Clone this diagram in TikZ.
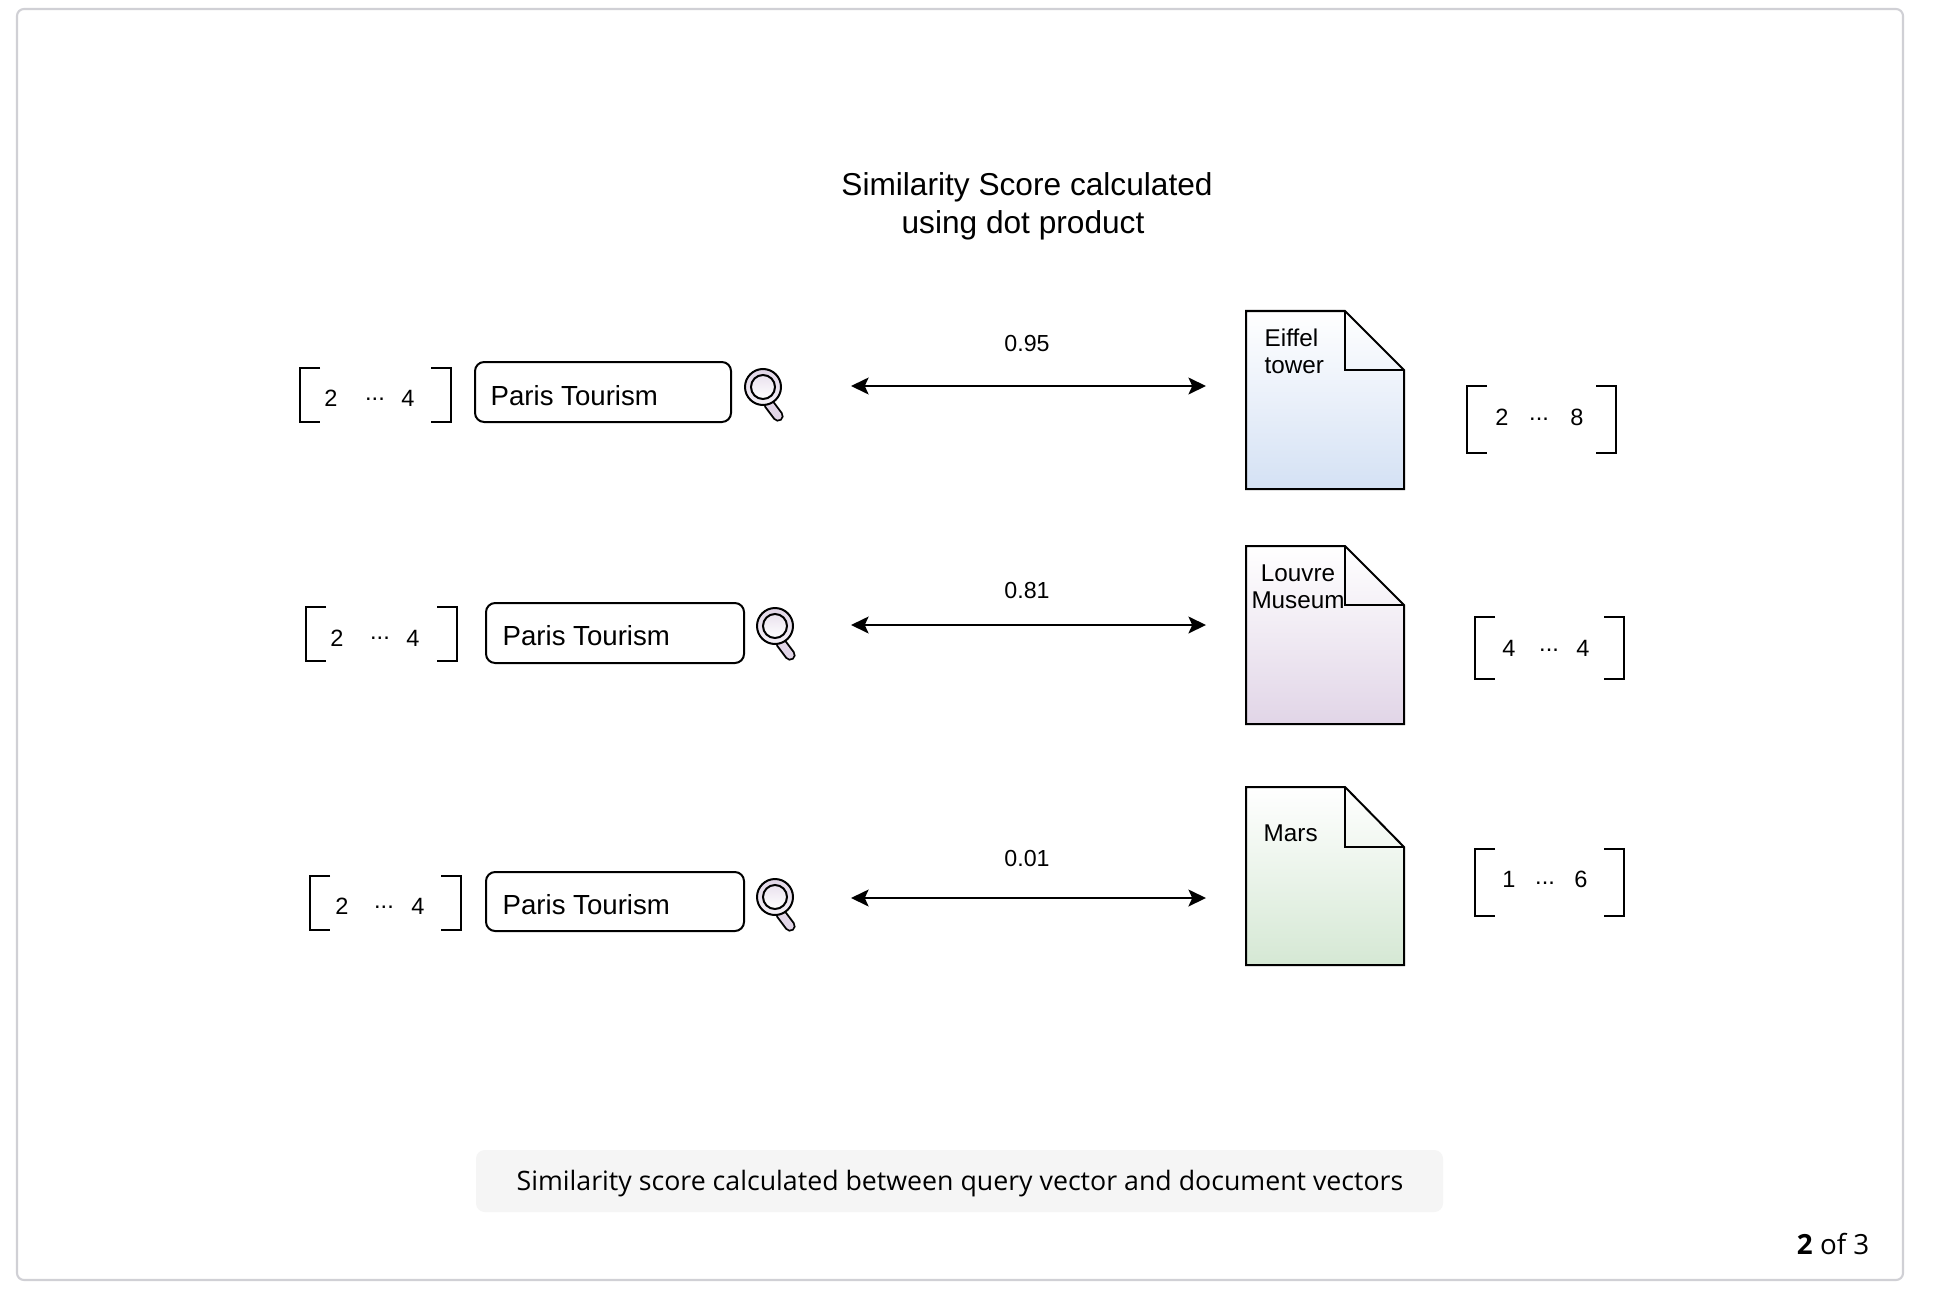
\documentclass[tikz,border=0pt]{standalone}
\usepackage{fontspec}
\setmainfont{Liberation Sans}
\newfontfamily\capfont{Open Sans}
\definecolor{framegray}{RGB}{208,208,213}
\definecolor{capgray}{RGB}{245,245,245}
\definecolor{docblue}{RGB}{212,225,244}
\definecolor{docpurple}{RGB}{225,213,231}
\definecolor{docgreen}{RGB}{213,232,212}
\usetikzlibrary{arrows.meta,positioning}
\newcommand{\fs}[1]{\fontsize{#1}{#1}\selectfont}
\tikzset{
  ln/.style={line width=0.57pt,black},
  querybox/.style={ln,draw,rounded corners=2.6pt},
  querytxt/.style={font=\fs{7.85},anchor=west,inner sep=0pt},
  vecnum/.style={font=\fs{6.7},inner sep=0pt},
  scorelbl/.style={font=\fs{6.6},inner sep=0pt},
  doctxt/.style={font=\fontsize{6.9}{7.7}\selectfont,inner sep=0pt,align=left},
  simarrow/.style={ln,{Stealth[length=5pt,width=4.8pt,inset=1.1pt]}-{Stealth[length=5pt,width=4.8pt,inset=1.1pt]}},
  lensring/.style={ln,top color=docpurple,bottom color=docpurple!35},
  lensglass/.style={ln,top color=docpurple!70,bottom color=white},
}
\begin{document}
\begin{tikzpicture}[x=0.01cm,y=-0.01cm]
\useasboundingbox (0,0) rectangle (1934,1294);
\fill[white] (0,0) rectangle (1934,1294);
\draw[framegray,line width=0.6pt,rounded corners=2pt] (17,9) rectangle (1903,1280);
% title
\node[font=\fs{9},align=center,inner sep=0pt] (title1) at (1027,187) {Similarity Score calculated};
\node[font=\fs{9},align=center,inner sep=0pt] (title2) at (1023,225) {using dot product};
% row 1
\draw[ln] (320,368) -| (300,422) -- (320,422);
\draw[ln] (431,368) -| (451,422) -- (431,422);
\node[vecnum] (q1a) at (331,398) {2};
\node[vecnum] (q1b) at (375,399) {...};
\node[vecnum] (q1c) at (408,398) {4};
\draw[querybox] (475,362) rectangle (731,422);
\node[querytxt] (q1) at (490,396) {Paris Tourism};
\draw[line width=3.2pt,line cap=round] (769,404) -- (778,416);
\draw[line width=2.1pt,docpurple,line cap=round] (769,404) -- (778,416);
\draw[lensring] (763,387) circle (18);
\draw[lensglass] (763,387) circle (12);
\coordinate (a1l) at (851,386);
\coordinate (a1r) at (1206,386);
\draw[simarrow] (a1l) -- (a1r);
\node[scorelbl] (s1) at (1027,344) {0.95};
\draw[ln,top color=white,bottom color=docblue] (1246,311) -- (1345,311) -- (1404,370) -- (1404,489) -- (1246,489) -- cycle;
\draw[ln] (1345,311) -- (1345,370) -- (1404,370);
\node[doctxt,anchor=west] (d1) at (1264,351.5) {Eiffel\\tower};
\draw[ln] (1487,386) -| (1467,453) -- (1487,453);
\draw[ln] (1596,386) -| (1616,453) -- (1596,453);
\node[vecnum] (v1a) at (1502,417) {2};
\node[vecnum] (v1b) at (1539,419) {...};
\node[vecnum] (v1c) at (1577,417) {8};
% row 2
\draw[ln] (326,607) -| (306,661) -- (326,661);
\draw[ln] (437,607) -| (457,661) -- (437,661);
\node[vecnum] (q2a) at (337,638) {2};
\node[vecnum] (q2b) at (380,638) {...};
\node[vecnum] (q2c) at (413,638) {4};
\draw[querybox] (486,603) rectangle (744,663);
\node[querytxt] (q2) at (502,636) {Paris Tourism};
\draw[line width=3.2pt,line cap=round] (781,643) -- (790,655);
\draw[line width=2.1pt,docpurple,line cap=round] (781,643) -- (790,655);
\draw[lensring] (775,626) circle (18);
\draw[lensglass] (775,626) circle (12);
\coordinate (a2l) at (851,625);
\coordinate (a2r) at (1206,625);
\draw[simarrow] (a2l) -- (a2r);
\node[scorelbl] (s2) at (1027,591) {0.81};
\draw[ln,top color=white,bottom color=docpurple] (1246,546) -- (1345,546) -- (1404,605) -- (1404,724) -- (1246,724) -- cycle;
\draw[ln] (1345,546) -- (1345,605) -- (1404,605);
\node[doctxt,align=center] (d2) at (1298,587) {Louvre\\Museum};
\draw[ln] (1495,617) -| (1475,679) -- (1495,679);
\draw[ln] (1604,617) -| (1624,679) -- (1604,679);
\node[vecnum] (v2a) at (1509,648) {4};
\node[vecnum] (v2b) at (1549,650) {...};
\node[vecnum] (v2c) at (1583,648) {4};
% row 3
\draw[ln] (330,876) -| (310,930) -- (330,930);
\draw[ln] (441,876) -| (461,930) -- (441,930);
\node[vecnum] (q3a) at (342,906) {2};
\node[vecnum] (q3b) at (384,907) {...};
\node[vecnum] (q3c) at (418,906) {4};
\draw[querybox] (486,872) rectangle (744,931);
\node[querytxt] (q3) at (502,905) {Paris Tourism};
\draw[line width=3.2pt,line cap=round] (781,914) -- (790,926);
\draw[line width=2.1pt,docpurple,line cap=round] (781,914) -- (790,926);
\draw[lensring] (775,897) circle (18);
\draw[lensglass] (775,897) circle (12);
\coordinate (a3l) at (851,898);
\coordinate (a3r) at (1206,898);
\draw[simarrow] (a3l) -- (a3r);
\node[scorelbl] (s3) at (1027,858) {0.01};
\draw[ln,top color=white,bottom color=docgreen] (1246,787) -- (1345,787) -- (1404,847) -- (1404,965) -- (1246,965) -- cycle;
\draw[ln] (1345,787) -- (1345,847) -- (1404,847);
\node[doctxt,anchor=west] (d3) at (1263,833) {Mars};
\draw[ln] (1495,849) -| (1475,916) -- (1495,916);
\draw[ln] (1604,849) -| (1624,916) -- (1604,916);
\node[vecnum] (v3a) at (1509,879) {1};
\node[vecnum] (v3b) at (1545,883) {...};
\node[vecnum] (v3c) at (1581,879) {6};
% caption
\fill[capgray,rounded corners=2.5pt] (476,1150) rectangle (1443,1212);
\node[font=\capfont\fs{7.6},inner sep=0pt] (cap) at (960,1184) {Similarity score calculated between query vector and document vectors};
\node[font=\capfont\fs{7.9},anchor=east,inner sep=0pt] (page) at (1870,1244) {\textbf{2} of 3};
\end{tikzpicture}
\end{document}
